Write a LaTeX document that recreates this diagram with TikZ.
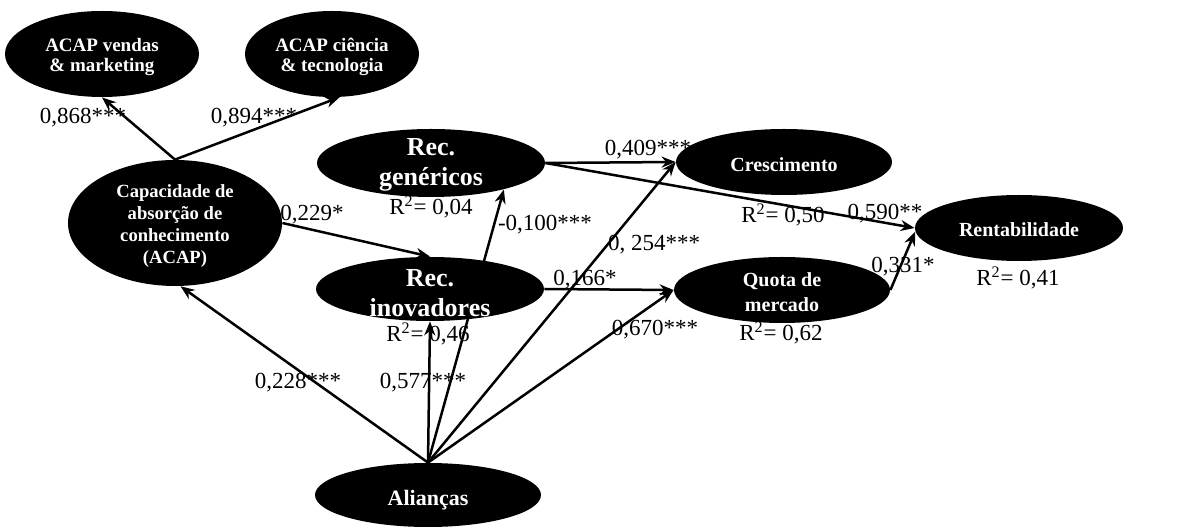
\documentclass[tikz,border=0pt]{standalone}
\usepackage{fontspec}
\setmainfont{Liberation Serif}
\usetikzlibrary{shapes.geometric,arrows.meta}
\pgfdeclarelayer{background}
\pgfsetlayers{background,main}
\newcommand{\rsq}{R\textsuperscript{2}}
\begin{document}
\begin{tikzpicture}[x=0.5pt,y=-0.5pt,
  lat/.style={ellipse, fill=black, inner sep=0pt},
  lattext/.style={text=white, align=center, inner sep=0pt},
  coef/.style={font=\fontsize{11.5}{13}\selectfont, inner sep=0pt},
  link/.style={line width=1.25pt, -{Stealth[length=7pt,width=5.5pt]}}]
\useasboundingbox (0,0) rectangle (1189,528);

% latent constructs
\node[lat, minimum width=97pt, minimum height=43pt] (av) at (102,54) {};
\node[lat, minimum width=87pt, minimum height=43pt] (ac) at (332,54) {};
\node[lat, minimum width=107pt, minimum height=63pt] (cap) at (175,223) {};
\node[lat, minimum width=114pt, minimum height=34pt] (gen) at (431,163) {};
\node[lat, minimum width=114pt, minimum height=32pt] (inov) at (430,289) {};
\node[lat, minimum width=108pt, minimum height=33pt] (cre) at (784,162) {};
\node[lat, minimum width=104pt, minimum height=33pt] (ren) at (1019,228) {};
\node[lat, minimum width=108pt, minimum height=33pt] (quo) at (782,290) {};
\node[lat, minimum width=113pt, minimum height=32pt] (ali) at (428,495) {};

% construct names
\node[lattext, font=\bfseries\fontsize{9.5}{10}\selectfont] (av-t) at (102,57) {ACAP vendas\\\& marketing};
\node[lattext, font=\bfseries\fontsize{9.5}{10}\selectfont] (ac-t) at (332,57) {ACAP ciência\\\& tecnologia};
\node[lattext, font=\bfseries\fontsize{9.3}{11}\selectfont] (cap-t) at (175,226) {Capacidade de\\absorção de\\conhecimento\\(ACAP)};
\node[lattext, font=\bfseries\fontsize{13}{15}\selectfont] (gen-t) at (431,165) {Rec.\\genéricos};
\node[lattext, font=\bfseries\fontsize{13}{15}\selectfont] (inov-t) at (430,293) {Rec.\\inovadores};
\node[lattext, font=\bfseries\fontsize{10}{12}\selectfont] (cre-t) at (784,165) {Crescimento};
\node[lattext, font=\bfseries\fontsize{10}{12}\selectfont] (ren-t) at (1019,230) {Rentabilidade};
\node[lattext, font=\bfseries\fontsize{10}{12.5}\selectfont] (quo-t) at (782,292) {Quota de\\mercado};
\node[lattext, font=\bfseries\fontsize{11}{13}\selectfont] (ali-t) at (428,500) {Alianças};

% paths, drawn beneath the constructs
\begin{pgfonlayer}{background}
\draw[link] (cap.north) -- (av.south);
\draw[link] (cap.north) -- (ac.-80);
\draw[link] (cap.east) -- (inov.north);
\draw[link] (ali.north) -- (cap.-85);
\draw[link] (ali.north) -- (inov.south);
\draw[link] (ali.north) -- (gen.-20);
\draw[link] (ali.north) -- (cre.west);
\draw[link] (ali.north) -- (quo.west);
\draw[link] (gen.east) -- (cre.west);
\draw[link] (gen.east) -- (ren.west);
\draw[link] (inov.east) -- (quo.west);
\draw[link] (quo.east) -- (ren.182);
\end{pgfonlayer}

% coefficients and R squared
\node[coef] (c1) at (83,118) {0,868***};
\node[coef] (c2) at (254,118) {0,894***};
\node[coef] (c3) at (312,215) {0,229*};
\node[coef] (r1) at (431,207) {\rsq= 0,04};
\node[coef] (c4) at (545,225) {-0,100***};
\node[coef] (c5) at (648,150) {0,409***};
\node[coef] (c6) at (654,245) {0, 254***};
\node[coef] (c7) at (585,280) {0,166*};
\node[coef] (r2) at (428,334) {\rsq= 0,46};
\node[coef] (c8) at (655,330) {0,670***};
\node[coef] (r3) at (783,215) {\rsq= 0,50};
\node[coef] (c9) at (885,214) {0,590**};
\node[coef] (c10) at (903,267) {0,331*};
\node[coef] (r4) at (1018,278) {\rsq= 0,41};
\node[coef] (r5) at (781,333) {\rsq= 0,62};
\node[coef] (c11) at (298,383) {0,228***};
\node[coef] (c12) at (423,383) {0,577***};
\end{tikzpicture}
\end{document}
